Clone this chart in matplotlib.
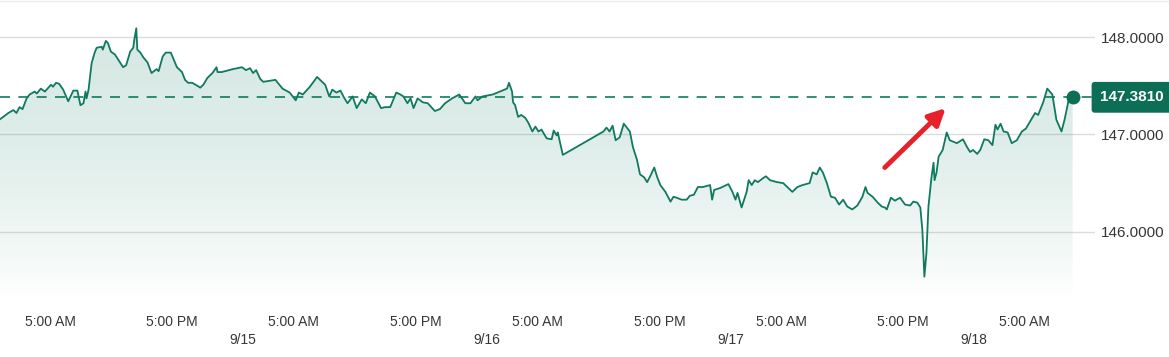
import numpy as np
import matplotlib.pyplot as plt
from matplotlib.patches import Polygon

## dados: horas desde 9/14 00:00 e cotação
horas = [0.0, 0.4, 0.9, 1.4, 1.7, 2.0, 2.3, 2.7, 3.0, 3.5, 3.7, 4.1, 4.5, 5.1, 5.3, 5.6, 5.9, 6.3, 6.8, 7.3,
         7.7, 8.0, 8.3, 8.5, 8.6, 8.8, 9.1, 9.4, 9.6, 10.1, 10.2, 10.5, 10.7, 11.0, 11.4, 11.9, 12.2, 12.5, 12.9, 13.2,
         13.3, 13.5, 13.6, 13.9, 14.2, 14.6, 15.0, 15.5, 15.7, 16.1, 16.4, 16.9, 17.1, 17.5, 18.0, 18.3, 18.6, 19.0, 19.5, 19.8,
         20.1, 20.5, 21.0, 21.4, 21.5, 21.9, 23.0, 23.9, 24.3, 24.7, 25.0, 25.3, 25.7, 26.0, 26.6,
         27.2, 27.9, 28.6, 29.2, 29.5, 29.9, 30.6, 31.3, 31.8, 32.1, 32.5, 32.8, 33.2, 33.6, 34.0, 34.3, 34.8, 35.2, 35.7, 36.1,
         36.5, 37.0, 37.6, 38.0, 38.5, 39.1, 39.5, 39.8, 40.2, 40.5, 40.8, 41.2, 41.7, 42.2, 42.9, 43.4, 43.9, 44.6, 45.3, 45.9,
         46.4, 46.9, 47.1, 47.6, 48.6, 50.0, 50.2, 50.5, 50.6, 50.8, 51.1, 51.4, 51.8, 52.1, 52.5, 52.8, 53.1, 53.4, 53.9, 54.4,
         54.6, 54.9, 55.0, 55.5, 59.5, 59.8, 60.1, 60.4, 60.7, 61.1, 61.5, 61.8, 62.1, 62.4, 62.8, 63.1, 63.5, 63.8, 64.1, 64.5,
         64.8, 65.1, 65.6, 66.1, 66.4, 66.7, 67.2, 67.7, 68.0, 68.4, 68.8, 69.3, 70.0, 70.2, 70.4, 71.0, 71.8, 72.2, 72.5, 72.7,
         73.1, 73.6, 73.8, 74.1, 74.4, 74.7, 75.2, 75.5, 75.9, 76.6, 77.2, 77.6, 78.1, 78.6, 79.1, 79.8, 80.1, 80.5, 80.8, 81.1,
         81.5, 81.9, 82.3, 82.7, 83.1, 83.5, 84.0, 84.5, 85.0, 85.3, 85.5, 86.0, 86.5, 86.9, 87.2, 87.4, 87.8, 88.2, 88.7, 89.2,
         89.7, 90.0, 90.4, 90.7, 90.9, 91.1, 91.3, 91.5, 91.8, 92.0, 92.1, 92.3, 92.5, 92.9, 93.3, 93.6, 94.3, 94.9, 95.3, 95.6,
         95.9, 96.3, 96.6, 97.0, 97.4, 97.8, 98.1, 98.3, 98.6, 98.9, 99.3, 99.7, 100.2, 100.7, 101.1, 101.6, 102.0, 102.3, 102.8, 103.2,
         103.7, 104.1, 104.6, 104.9, 105.3, 105.7]
cotacao = [147.15, 147.18, 147.22, 147.25, 147.22, 147.28, 147.26, 147.37, 147.41, 147.44, 147.42, 147.47, 147.44, 147.51, 147.49, 147.53, 147.52, 147.46, 147.34, 147.45,
           147.45, 147.30, 147.32, 147.44, 147.37, 147.46, 147.73, 147.84, 147.89, 147.90, 147.87, 147.96, 147.94, 147.85, 147.82, 147.74, 147.69, 147.71, 147.85, 147.89,
           147.97, 148.09, 147.87, 147.84, 147.79, 147.74, 147.63, 147.67, 147.65, 147.80, 147.84, 147.84, 147.79, 147.69, 147.64, 147.56, 147.53, 147.53, 147.50, 147.48,
           147.51, 147.58, 147.63, 147.69, 147.64, 147.64, 147.67, 147.69, 147.66, 147.68, 147.63, 147.66, 147.57, 147.54, 147.55,
           147.56, 147.47, 147.43, 147.35, 147.43, 147.41, 147.49, 147.59, 147.54, 147.51, 147.39, 147.46, 147.43, 147.45, 147.37, 147.32, 147.39, 147.27, 147.36, 147.32,
           147.43, 147.39, 147.27, 147.28, 147.28, 147.43, 147.41, 147.39, 147.32, 147.37, 147.27, 147.37, 147.33, 147.32, 147.24, 147.26, 147.32, 147.37, 147.41, 147.32,
           147.32, 147.39, 147.35, 147.39, 147.41, 147.47, 147.53, 147.44, 147.33, 147.30, 147.18, 147.20, 147.17, 147.12, 147.03, 147.08, 147.03, 147.05, 146.96, 146.95,
           147.04, 146.99, 147.02, 146.79, 147.03, 147.07, 147.03, 147.09, 146.94, 146.97, 147.11, 147.07, 147.03, 146.87, 146.74, 146.59, 146.56, 146.51, 146.57, 146.66,
           146.56, 146.48, 146.41, 146.31, 146.36, 146.35, 146.33, 146.33, 146.37, 146.38, 146.46, 146.46, 146.48, 146.33, 146.43, 146.45, 146.49, 146.41, 146.33, 146.40,
           146.25, 146.41, 146.53, 146.48, 146.53, 146.51, 146.55, 146.57, 146.53, 146.51, 146.50, 146.46, 146.41, 146.46, 146.48, 146.50, 146.61, 146.59, 146.66, 146.61,
           146.50, 146.36, 146.35, 146.28, 146.33, 146.26, 146.23, 146.27, 146.36, 146.46, 146.40, 146.36, 146.30, 146.26, 146.25, 146.23, 146.35, 146.32, 146.35, 146.28,
           146.27, 146.31, 146.30, 146.25, 146.02, 145.54, 145.78, 146.26, 146.56, 146.71, 146.53, 146.61, 146.77, 146.84, 147.02, 146.94, 146.91, 146.95, 146.87, 146.82,
           146.84, 146.80, 146.84, 146.95, 146.94, 146.89, 147.10, 147.05, 147.11, 147.03, 147.02, 146.91, 146.94, 147.03, 147.06, 147.15, 147.22, 147.20, 147.33, 147.47,
           147.41, 147.15, 147.03, 147.15, 147.35, 147.381]
ultimo = 147.381

y_ticks = [146, 147, 148]
y_labels = ['146.0000', '147.0000', '148.0000']
x_ticks = [5, 17, 29, 41, 53, 65, 77, 89, 101]
x_labels = ['5:00 AM', '5:00 PM'] * 4 + ['5:00 AM']
dia_ticks = [24, 48, 72, 96]
dia_labels = ['9/15', '9/16', '9/17', '9/18']

verde = '#0f7a5f'
verde_box = '#0b6e55'
cinza_txt = '#363636'

plt.rcParams['font.family'] = ['Liberation Sans', 'DejaVu Sans']

fig = plt.figure(figsize=(11.69, 3.57), dpi=100)
ax = fig.add_axes([0, 57 / 357, 1095 / 1169, 300 / 357])
x0, x1 = 0.08, 107.9
y0, y1 = 145.30, 148.38
ax.set_xlim(x0, x1)
ax.set_ylim(y0, y1)

# grade
for v in y_ticks:
    ax.axhline(v, color='#dcdcdc', lw=1, zorder=1)

# preenchimento em degradê (forte no topo, some embaixo)
t = np.linspace(0, 1, 256)
grad = np.zeros((256, 2, 4))
grad[..., 0] = 0.06
grad[..., 1] = 0.48
grad[..., 2] = 0.37
grad[..., 3] = (0.17 * (1 - t ** 2))[:, None]
img = ax.imshow(grad, extent=[x0, x1, y0, y1], aspect='auto', zorder=2, origin='upper')
poly = Polygon(list(zip(horas, cotacao)) + [(horas[-1], y0), (horas[0], y0)], closed=True,
               facecolor='none', edgecolor='none')
ax.add_patch(poly)
img.set_clip_path(poly)

ax.plot(horas, cotacao, color=verde, lw=1.3, zorder=4)
ax.axhline(ultimo, color=verde, lw=1.2, ls=(0, (6, 5)), zorder=3)
ax.plot(horas[-1], ultimo, 'o', color=verde_box, ms=9, zorder=5)

# seta vermelha
ax.annotate('', xy=(93.2, 147.27), xytext=(87.2, 146.66),
            arrowprops=dict(arrowstyle='-|>,head_width=0.5,head_length=1.0', color='#e8202a', lw=3.5,
                            shrinkA=0, shrinkB=0), zorder=6)

# eixos
for s in ax.spines.values():
    s.set_visible(False)
ax.yaxis.tick_right()
ax.set_yticks(y_ticks)
ax.set_yticklabels(y_labels, fontsize=11, color=cinza_txt)
ax.tick_params(axis='y', length=0, pad=4)
ax.set_xticks(x_ticks)
ax.set_xticklabels(x_labels, fontsize=10, color=cinza_txt)
ax.set_xticks(dia_ticks, minor=True)
ax.set_xticklabels(dia_labels, minor=True, fontsize=10, color=cinza_txt)
ax.tick_params(axis='x', which='major', length=0, pad=11)
ax.tick_params(axis='x', which='minor', length=0, pad=24)

ax.text(1.0 + 5 / 1095, ultimo, f'{ultimo:.4f}', transform=ax.get_yaxis_transform(),
        ha='left', va='center', fontsize=11, fontweight='bold', color='white', zorder=7,
        bbox=dict(boxstyle='round,pad=0.55,rounding_size=0.2', fc=verde_box, ec='none'))

fig.add_artist(plt.Line2D([0, 1], [0.997, 0.997], color='#ececec', lw=1))

plt.savefig('out.png', dpi=100)
